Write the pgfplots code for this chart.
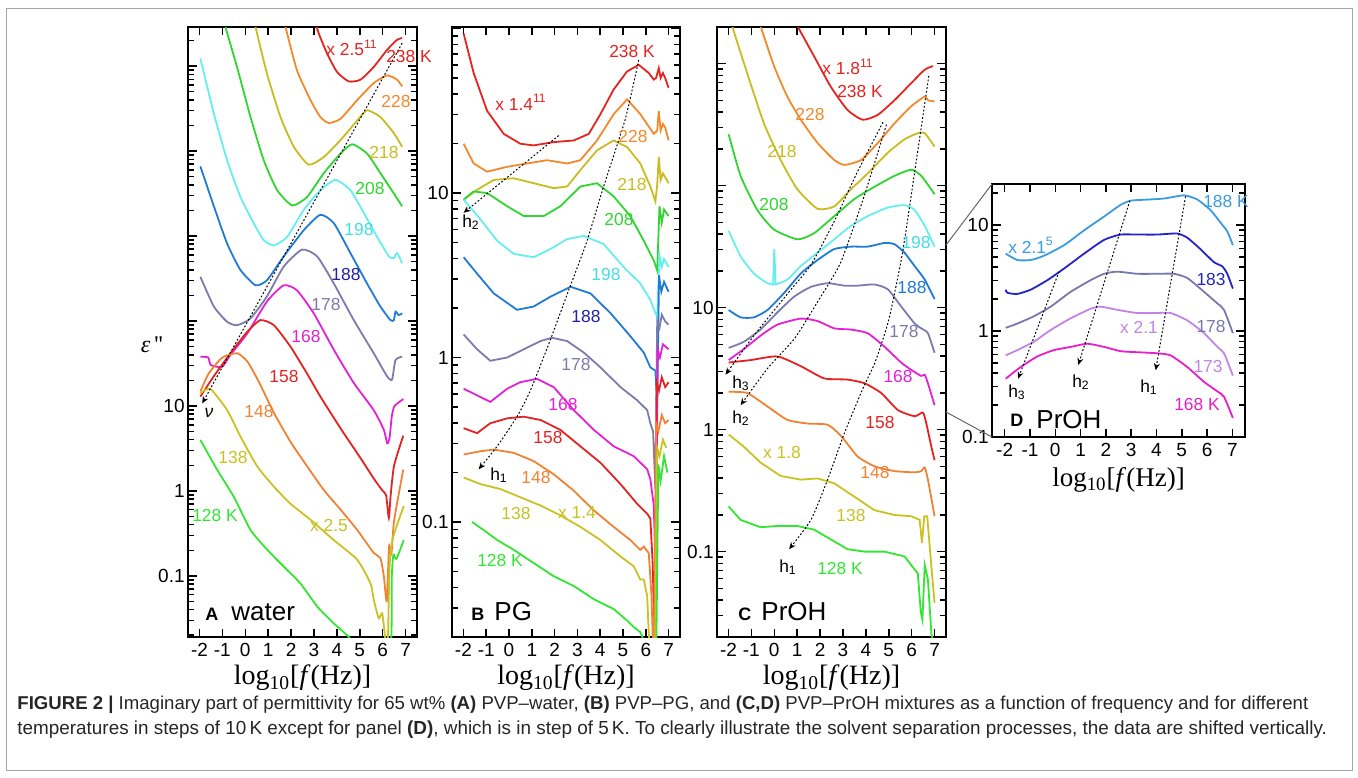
\documentclass[border=0pt]{standalone}
\usepackage{fontspec}
\setmainfont{Liberation Sans}
\newfontfamily\serif{Liberation Serif}
\usepackage{pgfplots}
\pgfplotsset{compat=1.18}
\usetikzlibrary{arrows.meta}
\definecolor{c238}{HTML}{E52420}
\definecolor{c228}{HTML}{F28A2B}
\definecolor{c218}{HTML}{C9BC1F}
\definecolor{c208}{HTML}{2FD62F}
\definecolor{c198}{HTML}{66EEEE}
\definecolor{c198l}{HTML}{44DDE6}
\definecolor{c188}{HTML}{1F7BD6}
\definecolor{c188l}{HTML}{2222A8}
\definecolor{c178}{HTML}{7B7BAE}
\definecolor{c168}{HTML}{E521D6}
\definecolor{c158}{HTML}{E32222}
\definecolor{c148}{HTML}{F08232}
\definecolor{c138}{HTML}{C8C222}
\definecolor{c128}{HTML}{33E633}
\definecolor{d188}{HTML}{3A9BE0}
\definecolor{d183}{HTML}{2323C8}
\definecolor{d178}{HTML}{7878AC}
\definecolor{d173}{HTML}{C384E6}
\definecolor{d168}{HTML}{E61FC8}
\pgfplotsset{
  base/.style={
    scale only axis, anchor=south west,
    xmin=-2.5, xmax=7.5,
    xtick={-2,-1,0,1,2,3,4,5,6,7},
    xticklabels={-2,-1,0,1,2,3,4,5,6,7},
    extra x ticks={-2,-1,0,1,2,3,4,5,6,7},
    extra x tick labels={},
    extra x tick style={major tick length=4pt},
    ytick={-1.699,-1.523,-1.398,-1.301,-1.222,-1.155,-1.097,-1.046,-1,-0.699,-0.523,-0.398,-0.301,-0.222,-0.155,-0.097,-0.046,0,0.301,0.477,0.602,0.699,0.778,0.845,0.903,0.954,1,1.301,1.477,1.602,1.699,1.778,1.845,1.903,1.954,2,2.301,2.477,2.602,2.699,2.778,2.845,2.903,2.954,3,3.301,3.477,3.602,3.699,3.778,3.845,3.903,3.954,4,4.301,4.477,4.602,4.699,4.778,4.845,4.903,4.954,5,5.301,5.477},
    yticklabels={{},{},{},{},{},{},{},{},0.1,{},{},{},{},{},{},{},{},1,{},{},{},{},{},{},{},{},10},
    extra y ticks={-1,0,1,2,3,4,5},
    extra y tick labels={},
    extra y tick style={major tick length=4.5pt},
    axis line style={line width=1pt},
    tick style={black, line width=0.75pt},
    major tick length=2.8pt,
    tick label style={font=\fontsize{9.5}{10}\selectfont},
    xticklabel style={inner sep=1.5pt, yshift=-1.5pt},
    yticklabel style={inner sep=1.5pt},
    xlabel={\serif log\textsubscript{10}[\textit{f}(Hz)]},
    xlabel style={font=\fontsize{14}{14}\selectfont, inner sep=0pt, yshift=-2.5pt},
    every axis plot/.append style={line width=0.9pt, no markers},
  },
  sm/.style={smooth, tension=0.35},
  ar/.style={black, densely dotted, line width=0.5pt, -{Stealth[length=3.5pt,width=3pt]}},
}
\newcommand\lab[4]{\node[text=#3, inner sep=0pt, font=\fontsize{8.7}{9}\selectfont] at (#1,#2) {#4};}
\begin{document}
\begin{tikzpicture}
\path[use as bounding box] (0pt,0pt) rectangle (679pt,-388.5pt);
\draw[black!35, line width=0.5pt] (3pt,-4pt) rectangle (676pt,-385pt);

% ---------------- Panel A
\begin{axis}[base, at={(94pt,-318.5pt)}, width=114.5pt, height=305pt,
  ymin=-1.72, ymax=5.46]
\addplot[c238, sm] coordinates {(2.95,5.75)(3.14,5.44)(3.57,5.15)(4.01,4.93)(4.52,4.82)(5.03,4.84)(5.61,4.99)(6.19,5.19)(6.63,5.31)(6.85,5.33)};
\addplot[c228, sm] coordinates {(1.60,5.70)(1.76,5.46)(2.26,4.95)(2.85,4.60)(3.28,4.40)(3.65,4.33)(4.16,4.38)(4.89,4.60)(5.61,4.80)(6.19,4.89)(6.63,4.84)(6.85,4.76)};
\addplot[c218, sm] coordinates {(0.30,5.70)(0.45,5.46)(0.95,4.91)(1.54,4.40)(2.12,4.05)(2.77,3.84)(3.43,3.93)(4.16,4.13)(4.89,4.36)(5.32,4.48)(5.90,4.40)(6.49,4.21)(6.85,4.05)};
\addplot[c208, sm] coordinates {(-1.0,5.70)(-0.86,5.46)(-0.36,4.99)(0.23,4.40)(0.81,3.89)(1.39,3.54)(2.05,3.36)(2.70,3.46)(3.43,3.74)(4.16,3.97)(4.67,4.08)(5.32,3.97)(5.90,3.74)(6.49,3.50)(6.85,3.35)};
\addplot[c198, sm] coordinates {(-1.96,5.09)(-1.37,4.44)(-0.79,3.89)(-0.21,3.46)(0.37,3.15)(0.81,2.95)(1.25,2.89)(1.83,2.99)(2.56,3.31)(3.28,3.54)(3.94,3.66)(4.59,3.54)(5.18,3.27)(5.76,2.99)(6.27,2.76)(6.49,2.74)(6.63,2.80)(6.85,2.68)};
\addplot[c188, sm] coordinates {(-1.96,3.82)(-1.37,3.35)(-0.79,2.91)(-0.21,2.60)(0.45,2.42)(0.95,2.48)(1.68,2.76)(2.56,3.07)(3.28,3.25)(3.87,3.15)(4.59,2.80)(5.32,2.44)(5.90,2.17)(6.34,2.01)(6.49,2.01)(6.56,2.11)(6.70,2.07)(6.85,2.09)};
\addplot[c178, sm] coordinates {(-1.96,2.52)(-1.37,2.17)(-0.79,1.99)(-0.36,1.95)(0.23,2.03)(0.95,2.29)(1.68,2.64)(2.48,2.84)(3.14,2.76)(3.87,2.44)(4.74,2.01)(5.61,1.62)(6.19,1.35)(6.41,1.31)(6.56,1.54)(6.85,1.58)};
\addplot[c168, sm] coordinates {(-1.96,1.58)(-1.62,1.57)(-1.50,1.48)(-1.01,1.46)(-0.65,1.60)(0.08,1.85)(0.95,2.23)(1.68,2.42)(2.26,2.36)(2.99,2.09)(3.87,1.66)(4.74,1.27)(5.61,0.95)(6.05,0.72)(6.20,0.56)(6.30,0.62)(6.40,0.88)(6.52,1.00)(6.90,1.08)};
\addplot[c158, sm] coordinates {(-1.96,1.11)(-1.37,1.35)(-0.65,1.62)(0.08,1.87)(0.66,2.01)(1.25,1.95)(1.97,1.70)(2.70,1.38)(3.28,1.11)(4.20,0.72)(5.00,0.40)(5.60,0.15)(6.00,0.00)(6.15,-0.05)(6.27,-0.32)(6.35,-0.05)(6.50,0.30)(6.90,0.65)};
\addplot[c148, sm] coordinates {(-1.96,1.17)(-1.60,1.38)(-1.00,1.57)(-0.35,1.62)(0.10,1.52)(0.60,1.28)(1.25,0.92)(1.97,0.58)(2.70,0.29)(3.43,0.01)(4.16,-0.22)(4.89,-0.46)(5.61,-0.73)(5.90,-0.79)(6.05,-1.00)(6.18,-1.30)(6.28,-0.65)(6.38,-0.75)(6.50,-0.35)(6.90,0.25)};
\addplot[c138, sm] coordinates {(-1.96,1.15)(-1.52,1.20)(-0.79,0.95)(-0.21,0.64)(0.52,0.29)(1.25,0.05)(1.97,-0.15)(2.85,-0.34)(3.87,-0.58)(4.89,-0.81)(5.47,-1.09)(5.61,-1.28)(5.83,-1.50)(5.98,-1.44)(6.12,-1.75)(6.22,-1.85)(6.30,-0.90)(6.45,-0.55)(6.92,-0.18)};
\addplot[c128, sm] coordinates {(-1.96,0.60)(-1.23,0.25)(-0.50,-0.07)(0.23,-0.46)(0.95,-0.69)(1.68,-0.89)(2.41,-1.09)(3.14,-1.36)(3.87,-1.56)(4.52,-1.72)(5.0,-1.9)(6.3,-1.95)(6.40,-1.0)(6.47,-0.75)(6.60,-0.80)(6.92,-0.58)};
\addplot[ar] coordinates {(6.85,5.27)(-1.88,1.03)};
\end{axis}

% ---------------- Panel B
\begin{axis}[base, at={(226pt,-318.5pt)}, width=114pt, height=305pt,
  ymin=-1.70, ymax=2.01]
\addplot[c238] coordinates {(-1.99,1.97)(-1.55,1.73)(-0.96,1.50)(-0.23,1.36)(0.50,1.30)(1.08,1.29)(1.96,1.31)(2.84,1.32)(3.50,1.36)(4.01,1.48)(4.59,1.63)(5.18,1.74)(5.69,1.78)(6.13,1.73)(6.35,1.69)(6.45,1.70)(6.57,1.76)(6.65,1.70)(6.75,1.73)(6.85,1.70)(7.0,1.64)};
\addplot[c228] coordinates {(-1.99,1.30)(-1.55,1.18)(-0.96,1.13)(-0.08,1.16)(0.79,1.18)(1.67,1.20)(2.55,1.18)(3.13,1.20)(3.86,1.32)(4.59,1.48)(5.18,1.57)(5.76,1.48)(6.35,1.36)(6.5,1.38)(6.57,1.50)(6.65,1.38)(6.75,1.42)(6.85,1.40)(7.0,1.32)};
\addplot[c218] coordinates {(-1.99,0.96)(-1.40,1.02)(-0.67,1.08)(0.21,1.09)(1.08,1.06)(1.96,1.03)(2.55,1.04)(3.13,1.14)(3.86,1.26)(4.59,1.32)(5.18,1.28)(5.76,1.18)(6.20,1.04)(6.42,0.95)(6.5,1.05)(6.57,1.22)(6.65,1.08)(6.75,1.12)(7.0,1.06)};
\addplot[c208] coordinates {(-1.99,0.96)(-1.55,1.01)(-0.96,1.00)(-0.08,0.92)(0.65,0.86)(1.52,0.86)(2.25,0.92)(3.13,1.04)(3.86,1.06)(4.59,0.98)(5.32,0.86)(5.91,0.71)(6.35,0.59)(6.50,0.53)(6.6,0.92)(6.7,0.82)(6.8,0.90)(7.0,0.86)};
\addplot[c198] coordinates {(-1.99,0.96)(-1.25,0.84)(-0.52,0.71)(0.21,0.63)(1.08,0.61)(1.82,0.66)(2.55,0.72)(3.28,0.74)(4.15,0.69)(5.03,0.55)(5.76,0.45)(6.20,0.35)(6.42,0.27)(6.5,0.25)(6.6,0.62)(6.7,0.55)(6.8,0.60)(7.0,0.55)};
\addplot[c188] coordinates {(-1.99,0.61)(-1.40,0.51)(-0.67,0.39)(0.35,0.29)(1.08,0.31)(1.82,0.37)(2.70,0.43)(3.57,0.39)(4.45,0.27)(5.32,0.13)(5.91,0.03)(6.20,-0.06)(6.42,-0.08)(6.5,-0.3)(6.58,0.50)(6.68,0.40)(6.8,0.46)(7.0,0.40)};
\addplot[c178] coordinates {(-1.99,0.14)(-1.40,0.05)(-0.82,-0.02)(-0.08,0.00)(0.65,0.05)(1.38,0.10)(1.89,0.12)(2.55,0.10)(3.28,0.03)(4.01,-0.06)(4.89,-0.18)(5.62,-0.26)(6.06,-0.32)(6.20,-0.40)(6.32,-0.45)(6.42,-0.80)(6.50,0.22)(6.60,0.18)(6.70,0.26)(6.85,0.22)(7.0,0.20)};
\addplot[c168] coordinates {(-1.99,-0.19)(-1.40,-0.23)(-0.82,-0.27)(-0.08,-0.19)(0.50,-0.15)(1.23,-0.13)(1.96,-0.18)(2.84,-0.32)(3.72,-0.44)(4.59,-0.54)(5.47,-0.60)(6.06,-0.68)(6.20,-0.74)(6.35,-0.90)(6.45,-1.40)(6.52,0.05)(6.62,0.0)(6.75,0.08)(7.0,0.05)};
\addplot[c158] coordinates {(-1.99,-0.43)(-1.40,-0.46)(-0.82,-0.40)(-0.08,-0.37)(0.65,-0.36)(1.38,-0.38)(2.25,-0.44)(3.13,-0.54)(4.01,-0.64)(4.89,-0.77)(5.62,-0.89)(6.06,-0.95)(6.20,-0.98)(6.30,-1.25)(6.40,-1.80)(6.48,-0.15)(6.58,-0.2)(6.70,-0.12)(6.85,-0.18)(7.0,-0.15)};
\addplot[c148] coordinates {(-1.99,-0.59)(-1.25,-0.57)(-0.67,-0.56)(0.21,-0.58)(1.08,-0.63)(1.96,-0.71)(2.84,-0.81)(3.72,-0.93)(4.59,-1.03)(5.32,-1.11)(5.76,-1.17)(5.91,-1.15)(6.13,-1.19)(6.25,-1.45)(6.35,-1.90)(6.45,-0.40)(6.55,-0.45)(6.70,-0.35)(6.85,-0.40)(7.0,-0.38)};
\addplot[c138] coordinates {(-1.99,-0.73)(-1.25,-0.77)(-0.38,-0.80)(0.50,-0.85)(1.38,-0.90)(2.25,-0.96)(3.13,-1.03)(4.01,-1.11)(4.89,-1.21)(5.47,-1.27)(5.76,-1.35)(5.91,-1.35)(6.06,-1.45)(6.20,-1.90)(6.40,-1.90)(6.50,-0.55)(6.60,-0.60)(6.75,-0.50)(6.9,-0.55)};
\addplot[c128] coordinates {(-1.62,-1.0)(-1.11,-1.05)(-0.52,-1.11)(0.21,-1.17)(1.08,-1.25)(1.96,-1.33)(2.84,-1.39)(3.72,-1.47)(4.59,-1.53)(5.18,-1.60)(5.47,-1.64)(5.76,-1.67)(5.91,-1.72)(6.1,-1.9)(6.45,-1.9)(6.55,-0.65)(6.65,-0.75)(6.80,-0.60)(6.95,-0.70)};
\addplot[ar] coordinates {(2.18,1.35)(-1.99,0.88)};
\addplot[ar, sm] coordinates {(5.69,1.81)(5.1,1.45)(4.15,1.04)(3.4,0.70)(2.62,0.41)(1.82,0.11)(0.94,-0.20)(0.35,-0.36)(-0.52,-0.54)(-1.33,-0.68)};
\end{axis}

% ---------------- Panel C
\begin{axis}[base, at={(358.5pt,-318.5pt)}, width=114.5pt, height=305pt,
  ymin=-1.70, ymax=3.30]
\addplot[c238, sm] coordinates {(0.85,3.40)(1.01,3.31)(1.74,3.06)(2.47,2.81)(3.20,2.62)(3.86,2.54)(4.52,2.58)(5.25,2.70)(5.98,2.84)(6.57,2.95)(6.93,2.98)};
\addplot[c228, sm] coordinates {(-0.70,3.40)(-0.60,3.31)(-0.01,2.98)(0.57,2.73)(1.16,2.54)(1.89,2.35)(2.62,2.21)(3.06,2.17)(3.79,2.21)(4.52,2.35)(5.25,2.51)(5.98,2.65)(6.57,2.73)(6.71,2.70)(7.0,2.69)};
\addplot[c218, sm] coordinates {(-1.90,3.40)(-1.84,3.31)(-1.18,2.92)(-0.45,2.51)(0.28,2.21)(1.01,1.97)(1.89,1.81)(2.62,1.83)(3.35,1.97)(4.08,2.10)(4.96,2.27)(5.69,2.38)(6.27,2.43)(6.57,2.43)(7.0,2.32)};
\addplot[c208, sm] coordinates {(-1.99,2.42)(-1.47,2.08)(-0.74,1.80)(-0.01,1.64)(1.01,1.56)(1.74,1.61)(2.62,1.75)(3.50,1.89)(4.37,1.99)(5.25,2.08)(5.98,2.13)(6.42,2.08)(7.0,1.93)};
\addplot[c198, sm] coordinates {(-1.99,1.63)(-1.47,1.42)(-0.89,1.28)(-0.30,1.20)(0.05,1.19)(0.57,1.23)(1.16,1.34)(1.89,1.45)(2.62,1.56)(3.35,1.67)(4.08,1.75)(4.96,1.82)(5.69,1.84)(6.13,1.80)(6.57,1.67)(7.0,1.50)};
\addplot[c198] coordinates {(-0.05,1.19)(0.0,1.48)(0.06,1.19)};
\addplot[c188, sm] coordinates {(-1.99,0.98)(-1.47,0.92)(-0.89,0.92)(-0.30,0.98)(0.43,1.12)(1.16,1.28)(1.89,1.39)(2.62,1.48)(3.35,1.50)(4.08,1.50)(4.81,1.53)(5.25,1.52)(5.69,1.45)(6.13,1.34)(6.57,1.23)(7.0,1.07)};
\addplot[c178, sm] coordinates {(-1.99,0.67)(-1.33,0.72)(-0.60,0.82)(0.13,0.96)(0.87,1.09)(1.60,1.17)(2.33,1.20)(3.06,1.18)(3.65,1.18)(4.37,1.19)(4.96,1.15)(5.54,1.01)(6.13,0.87)(6.42,0.83)(6.71,0.79)(7.0,0.63)};
\addplot[c168, sm] coordinates {(-1.99,0.57)(-1.33,0.66)(-0.60,0.77)(0.13,0.86)(1.16,0.91)(1.89,0.89)(2.62,0.83)(3.35,0.82)(4.08,0.79)(4.81,0.68)(5.54,0.55)(5.98,0.49)(6.42,0.44)(6.57,0.45)(6.71,0.38)(7.0,0.20)};
\addplot[c158, sm] coordinates {(-1.99,0.55)(-1.03,0.57)(0.13,0.60)(1.16,0.52)(2.18,0.42)(3.20,0.41)(3.94,0.38)(4.67,0.30)(5.40,0.16)(6.13,0.11)(6.49,0.14)(6.64,0.05)(6.86,-0.14)(7.0,-0.25)};
\addplot[c148, sm] coordinates {(-1.99,0.31)(-1.18,0.30)(-0.30,0.19)(0.57,0.08)(1.45,0.05)(2.33,0.04)(2.91,-0.05)(3.64,-0.22)(4.37,-0.30)(5.25,-0.34)(6.13,-0.35)(6.42,-0.34)(6.57,-0.31)(6.71,-0.41)(7.0,-0.71)};
\addplot[c138] coordinates {(-1.99,-0.04)(-1.33,-0.14)(-0.60,-0.27)(0.28,-0.38)(1.16,-0.41)(1.89,-0.40)(2.62,-0.44)(3.50,-0.55)(4.37,-0.66)(5.25,-0.70)(5.98,-0.71)(6.35,-0.74)(6.45,-0.93)(6.55,-0.71)(6.68,-0.71)(6.86,-1.12)(7.0,-1.42)};
\addplot[c128] coordinates {(-1.99,-0.63)(-1.47,-0.74)(-0.60,-0.80)(0.13,-0.79)(1.01,-0.79)(1.74,-0.82)(2.47,-0.90)(3.20,-0.98)(3.94,-1.00)(4.81,-1.00)(5.69,-1.04)(6.27,-1.18)(6.40,-1.50)(6.47,-1.56)(6.57,-1.11)(6.71,-1.23)(6.86,-1.67)(6.95,-1.75)};
\addplot[ar, sm] coordinates {(4.75,2.52)(3.6,2.1)(2.6,1.7)(1.6,1.35)(0.65,1.13)(-0.89,0.77)(-2.13,0.45)};
\addplot[ar, sm] coordinates {(4.9,2.5)(3.9,1.9)(2.9,1.37)(1.9,1.05)(0.9,0.75)(-0.3,0.5)(-1.47,0.2)};
\addplot[ar, sm] coordinates {(6.75,2.9)(6.2,2.2)(5.6,1.45)(5.0,0.9)(4.4,0.55)(3.9,0.35)(3.06,-0.03)(2.33,-0.41)(1.60,-0.74)(0.65,-0.98)};
\end{axis}

% ---------------- Panel D
\begin{axis}[base, at={(496pt,-218.5pt)}, width=126.5pt, height=126.5pt,
  ymin=-1, ymax=1.387,
  ytick={-1,-0.699,-0.523,-0.398,-0.301,-0.222,-0.155,-0.097,-0.046,0,0.301,0.477,0.602,0.699,0.778,0.845,0.903,0.954,1,1.301},
  yticklabels={0.1,{},{},{},{},{},{},{},{},1,{},{},{},{},{},{},{},{},10,{}},
  extra y ticks={-1,0,1},
  xlabel style={font=\fontsize{13.5}{14}\selectfont, yshift=-1pt}]
\addplot[d188, sm] coordinates {(-1.96,0.73)(-1.50,0.67)(-0.97,0.67)(-0.45,0.71)(0.35,0.81)(1.14,0.95)(1.93,1.08)(2.58,1.19)(2.98,1.23)(3.64,1.24)(4.30,1.25)(5.09,1.28)(5.62,1.24)(6.14,1.14)(6.54,1.02)(6.80,0.94)(7.02,0.81)};
\addplot[d183, sm] coordinates {(-1.96,0.39)(-1.89,0.36)(-1.50,0.35)(-0.97,0.39)(-0.31,0.48)(0.35,0.59)(1.14,0.73)(1.93,0.86)(2.58,0.91)(3.24,0.91)(4.03,0.91)(4.82,0.92)(5.22,0.88)(5.75,0.77)(6.27,0.65)(6.60,0.61)(6.80,0.54)(7.02,0.40)};
\addplot[d178, sm] coordinates {(-1.96,0.03)(-1.50,0.07)(-0.84,0.14)(-0.18,0.23)(0.61,0.37)(1.40,0.48)(1.93,0.54)(2.45,0.56)(3.24,0.54)(4.03,0.54)(4.69,0.54)(5.22,0.50)(5.88,0.37)(6.41,0.26)(6.67,0.20)(7.02,-0.02)};
\addplot[d173, sm] coordinates {(-1.96,-0.23)(-1.50,-0.18)(-0.84,-0.10)(-0.18,0.01)(0.61,0.12)(1.40,0.21)(1.79,0.23)(2.45,0.20)(3.24,0.17)(4.03,0.17)(4.56,0.17)(5.22,0.10)(5.88,-0.02)(6.41,-0.15)(6.67,-0.21)(7.02,-0.42)};
\addplot[d168, sm] coordinates {(-1.96,-0.45)(-1.37,-0.34)(-0.71,-0.24)(-0.05,-0.18)(0.61,-0.15)(1.27,-0.12)(1.93,-0.15)(2.58,-0.19)(3.24,-0.20)(4.03,-0.21)(4.56,-0.23)(5.22,-0.34)(5.88,-0.48)(6.41,-0.57)(6.67,-0.62)(7.02,-0.82)};
\addplot[ar] coordinates {(0.15,0.56)(-1.47,-0.45)};
\addplot[ar] coordinates {(2.95,1.23)(0.91,-0.32)};
\addplot[ar] coordinates {(5.15,1.27)(3.97,-0.37)};
\end{axis}

\begin{scope}[x=0.5pt, y=-0.5pt]
\draw[black!60, line width=0.5pt] (946,245) -- (992,184);
\draw[black!60, line width=0.5pt] (946,412) -- (992,437);
\node[font=\fontsize{12}{12}\selectfont\serif] at (152,345) {\textit{ε}\,''};
% A labels
\lab{352}{48}{c238}{x 2.5\textsuperscript{11}}
\lab{409}{57}{c238}{238 K}
\lab{396}{102}{c228}{228}
\lab{384}{153}{c218}{218}
\lab{370}{189}{c208}{208}
\lab{359}{230}{c198l}{198}
\lab{346}{275}{c188l}{188}
\lab{326}{305}{c178}{178}
\lab{306}{337}{c168}{168}
\lab{284}{377}{c158}{158}
\lab{259}{412}{c148}{148}
\lab{233}{458}{c138}{138}
\lab{215}{515}{c128}{128 K}
\lab{329}{525}{c138}{x 2.5}
\lab{209}{413}{black}{\textit{ν}}
\node[anchor=base west, inner sep=0pt, font=\fontsize{9}{9}\selectfont\bfseries] at (205,620) {A};
\node[anchor=base west, inner sep=0pt, font=\fontsize{13}{13}\selectfont] at (231,620) {water};
% B labels
\lab{632}{52}{c238}{238 K}
\lab{521}{102}{c238}{x 1.4\textsuperscript{11}}
\lab{633}{137}{c228}{228}
\lab{632}{185}{c218}{218}
\lab{619}{220}{c208}{208}
\lab{606}{275}{c198l}{198}
\lab{586}{317}{c188l}{188}
\lab{576}{365}{c178}{178}
\lab{563}{405}{c168}{168}
\lab{548}{438}{c158}{158}
\lab{536}{477}{c148}{148}
\lab{516}{513}{c138}{138}
\lab{577}{513}{c138}{x 1.4}
\lab{500}{560}{c128}{128 K}
\lab{471}{222}{black}{h\textsubscript{2}}
\lab{499}{475}{black}{h\textsubscript{1}}
\node[anchor=base west, inner sep=0pt, font=\fontsize{9}{9}\selectfont\bfseries] at (471,620) {B};
\node[anchor=base west, inner sep=0pt, font=\fontsize{13}{13}\selectfont] at (494,620) {PG};
% C labels
\lab{848}{67}{c238}{x 1.8\textsuperscript{11}}
\lab{860}{92}{c238}{238 K}
\lab{810}{115}{c228}{228}
\lab{782}{152}{c218}{218}
\lab{774}{205}{c208}{208}
\lab{916}{243}{c198l}{198}
\lab{912}{288}{c188}{188}
\lab{904}{332}{c178}{178}
\lab{898}{377}{c168}{168}
\lab{880}{423}{c158}{158}
\lab{875}{473}{c148}{148}
\lab{851}{515}{c138}{138}
\lab{782}{453}{c138}{x 1.8}
\lab{840}{568}{c128}{128 K}
\lab{741}{383}{black}{h\textsubscript{3}}
\lab{741}{418}{black}{h\textsubscript{2}}
\lab{788}{567}{black}{h\textsubscript{1}}
\node[anchor=base west, inner sep=0pt, font=\fontsize{9}{9}\selectfont\bfseries] at (738,620) {C};
\node[anchor=base west, inner sep=0pt, font=\fontsize{13}{13}\selectfont] at (761,620) {PrOH};
% D labels
\lab{1226}{202}{d188}{188 K}
\lab{1031}{245}{d188}{x 2.1\textsuperscript{5}}
\lab{1211}{280}{d183}{183}
\lab{1211}{327}{d178}{178}
\lab{1139}{327}{d173}{x 2.1}
\lab{1208}{367}{d173}{173}
\lab{1197}{405}{d168}{168 K}
\lab{1017}{392}{black}{h\textsubscript{3}}
\lab{1081}{382}{black}{h\textsubscript{2}}
\lab{1149}{387}{black}{h\textsubscript{1}}
\node[anchor=base west, inner sep=0pt, font=\fontsize{9}{9}\selectfont\bfseries] at (1010,426) {D};
\node[anchor=base west, inner sep=0pt, font=\fontsize{13}{13}\selectfont] at (1036,428) {PrOH};
% caption
\node[anchor=base west, inner sep=0pt, font=\fontsize{9.3}{10}\selectfont, text=black!85] at (17,709) {\textbf{FIGURE 2 |} Imaginary part of permittivity for 65 wt\% \textbf{(A)} PVP–water, \textbf{(B)} PVP–PG, and \textbf{(C,D)} PVP–PrOH mixtures as a function of frequency and for different};
\node[anchor=base west, inner sep=0pt, font=\fontsize{9.45}{10}\selectfont, text=black!85] at (17,734) {temperatures in steps of 10\,K except for panel \textbf{(D)}, which is in step of 5\,K. To clearly illustrate the solvent separation processes, the data are shifted vertically.};
\end{scope}
\end{tikzpicture}
\end{document}
